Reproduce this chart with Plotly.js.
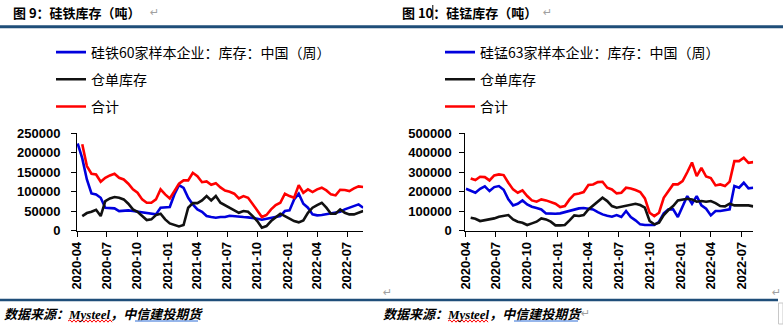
<!DOCTYPE html>
<html>
<head>
<meta charset="utf-8">
<script src="https://cdn.plot.ly/plotly-3.0.1.min.js"></script>
<style>
  html, body { margin: 0; padding: 0; background: #fff; }
  #chart { width: 783px; height: 329px; }
</style>
</head>
<body>
<div id="chart"></div>
<script>
// ---------- data ----------
const dates = [
  '2020-04-03','2020-04-17','2020-05-01','2020-05-15','2020-05-29','2020-06-12','2020-06-26','2020-07-10','2020-07-24','2020-08-07',
  '2020-08-21','2020-09-04','2020-09-18','2020-10-02','2020-10-16','2020-10-30','2020-11-13','2020-11-27','2020-12-11','2020-12-25',
  '2021-01-08','2021-01-22','2021-02-05','2021-02-19','2021-03-05','2021-03-19','2021-04-02','2021-04-16','2021-04-30','2021-05-14',
  '2021-05-28','2021-06-11','2021-06-25','2021-07-09','2021-07-23','2021-08-06','2021-08-20','2021-09-03','2021-09-17','2021-10-01',
  '2021-10-15','2021-10-29','2021-11-12','2021-11-26','2021-12-10','2021-12-24','2022-01-07','2022-01-21','2022-02-04','2022-02-18',
  '2022-03-04','2022-03-18','2022-04-01','2022-04-15','2022-04-29','2022-05-13','2022-05-27','2022-06-10','2022-06-24','2022-07-08',
  '2022-07-22','2022-08-05','2022-08-19'
];

// 图9 硅铁
const fesiSample = [
  224000,185500,131600,95700,93000,84600,59000,57300,57300,50400,
  52100,52100,50400,48700,46000,43600,43600,41900,59000,59000,
  60700,93000,117000,110000,84600,67500,54700,48700,37600,35000,
  33300,35000,35000,38500,36700,35000,35000,34200,33300,30800,
  28200,30800,33300,35000,37600,50400,52100,80300,94900,69200,
  59000,41900,39300,40200,41900,44400,46000,48700,54700,59000,
  65000,67500,59000
];
const fesiWarrant = [
  null,37600,45300,48700,53800,37600,76100,82900,86300,84600,
  80300,69200,54700,48700,37600,27400,29100,40200,43600,29100,
  18800,14500,11100,14500,59000,70900,70900,77800,88900,77800,
  88900,71800,65000,59000,52100,46000,50400,48700,37600,24800,
  7700,12000,24800,33300,43600,37600,31600,24800,21400,26500,
  46000,59000,65800,71800,59000,43600,43600,54700,46000,41900,
  41900,45300,50400
];
const fesiTotal = [
  null,222000,165800,146200,144400,125600,135900,141900,146200,135900,
  131600,120500,106000,97400,80300,71800,71800,80300,106000,93200,
  82900,101700,120500,129100,129100,148700,140000,124500,126500,118000,
  122000,111000,103000,100000,95000,82900,88900,84600,69200,52100,
  35000,40200,54700,65800,71800,94900,88900,84600,117100,97400,
  106000,99100,106000,110300,103400,93200,90600,105100,104300,101700,
  108500,113700,112000
];

// 图10 硅锰
const simnSample = [
  215400,203400,194900,215400,227400,203400,223900,229100,210300,160700,
  129900,138500,155600,135000,123100,116200,109400,88900,87200,87200,
  88900,95700,104300,109400,114500,116200,114500,109400,95700,83800,
  77000,71800,80300,70100,100900,70100,53000,32500,29100,27400,
  29100,46200,88900,109400,109400,70100,126500,177800,138500,177800,
  129900,112800,78600,100900,100900,106000,109400,229100,220500,246200,
  217100,220500
];
const simnWarrant = [
  null,66700,61500,49600,53000,58100,63200,71800,75200,80300,
  58100,46200,41000,29100,37600,46200,63200,58100,46200,27400,
  27400,29100,53000,78600,75200,80300,109400,129900,148700,169200,
  152100,126500,118000,123100,124800,131600,138500,131600,118000,49600,
  32500,41000,80300,106000,126500,155600,160700,164100,160700,148700,
  152100,148700,152100,141900,126500,124800,138500,129900,129900,129900,
  129900,124800
];
const simnTotal = [
  null,268400,259800,276900,275200,258100,283800,288900,285500,246200,
  212000,194900,206800,177800,155600,148700,160700,155600,148700,138500,
  121400,126500,160700,186300,191500,198300,234200,237600,249600,251300,
  220500,212000,191500,194900,220500,217100,208500,198300,165800,92300,
  75200,92300,169200,203400,237600,237600,254700,300000,350000,280000,
  322000,278000,270000,232500,237600,229100,252000,357300,357300,374400,
  348700,352100
];

const namesL = ['硅铁60家样本企业：库存：中国（周）', '仓单库存', '合计'];
const namesR = ['硅锰63家样本企业：库存：中国（周）', '仓单库存', '合计'];
const colors = ['#0000DD', '#111111', '#FF0000'];

// ---------- layout helpers ----------
const W = 783, H = 329;
const px = v => v / W;
const py = v => 1 - v / H;

const datesR = dates.slice(0, simnSample.length);

function tr(x, y, name, color, xa, ya, leg, grp) {
  return {
    type: 'scatter', mode: 'lines', x: x, y: y, name: name,
    line: { color: color, width: 2.6 },
    xaxis: xa, yaxis: ya, legend: leg, legendgroup: grp,
    connectgaps: false, hoverinfo: 'skip'
  };
}

const traces = [
  tr(dates, fesiSample, namesL[0], colors[0], 'x', 'y', 'legend', 'l1'),
  tr(dates, fesiWarrant, namesL[1], colors[1], 'x', 'y', 'legend', 'l2'),
  tr(dates, fesiTotal, namesL[2], colors[2], 'x', 'y', 'legend', 'l3'),
  tr(datesR, simnSample, namesR[0], colors[0], 'x2', 'y2', 'legend2', 'r1'),
  tr(datesR, simnWarrant, namesR[1], colors[1], 'x2', 'y2', 'legend2', 'r2'),
  tr(datesR, simnTotal, namesR[2], colors[2], 'x2', 'y2', 'legend2', 'r3')
];

const tickFont = { family: 'Liberation Sans, Arial, sans-serif', size: 13, color: '#000', weight: 'bold' };
const cjk = 'Noto Sans CJK SC, sans-serif';

function xAx(domain, range, anchor) {
  return {
    type: 'date', domain: domain, range: range, anchor: anchor,
    tick0: '2020-04-01', dtick: 'M3', tickformat: '%Y-%m', tickangle: -90,
    ticks: 'outside', ticklen: 5, tickcolor: '#000', tickwidth: 1,
    showline: true, linecolor: '#000', linewidth: 1,
    showgrid: false, zeroline: false, tickfont: tickFont, fixedrange: true
  };
}
function yAx(domain, range, dtick, anchor, standoff) {
  return {
    domain: domain, range: range, dtick: dtick, tick0: 0, anchor: anchor,
    tickformat: 'd',
    ticks: 'outside', ticklen: 5, tickcolor: '#000', tickwidth: 1,
    showline: true, linecolor: '#000', linewidth: 1,
    showgrid: false, zeroline: false, tickfont: tickFont, fixedrange: true,
    ticklabelstandoff: standoff
  };
}

const yDom = [py(230.7), py(133.3)];

const legendCommon = {
  orientation: 'v', xanchor: 'left', yanchor: 'top',
  font: { family: cjk, size: 14, color: '#000' },
  bgcolor: 'rgba(0,0,0,0)', borderwidth: 0,
  traceorder: 'grouped', tracegroupgap: 6, itemwidth: 30
};

function wavy(x0, x1, y) {
  let d = 'M' + px(x0) + ',' + py(y);
  let up = true;
  for (let x = x0 + 2; x <= x1; x += 2) {
    d += ' L' + px(x) + ',' + py(y + (up ? -1.2 : 1.2));
    up = !up;
  }
  return d;
}

const gray = '#A0A0A0';
const srcText = '<b><i>数据来源：<span style="font-family:Liberation Serif, serif">Mysteel</span>，中信建投期货</i></b>';

const layout = {
  width: W, height: H, autosize: false,
  margin: { l: 0, r: 0, t: 0, b: 0, pad: 0 },
  paper_bgcolor: '#fff', plot_bgcolor: '#fff',
  showlegend: true,
  xaxis: xAx([px(77), px(363.2)], ['2020-04-01', '2022-08-19'], 'y'),
  yaxis: yAx(yDom, [0, 250000], 50000, 'x', 8),
  xaxis2: xAx([px(465.3), px(753.2)], ['2020-04-01', '2022-08-05'], 'y2'),
  yaxis2: yAx(yDom, [0, 500000], 100000, 'x2', 5),
  legend: Object.assign({}, legendCommon, { x: px(51), y: py(36.5) }),
  legend2: Object.assign({}, legendCommon, { x: px(440), y: py(36.5) }),
  shapes: [
    { type: 'line', xref: 'paper', yref: 'paper', x0: 0, x1: 1, y0: py(26.8), y1: py(26.8), line: { color: '#1F4E79', width: 3 } },
    { type: 'line', xref: 'paper', yref: 'paper', x0: 0, x1: px(778), y0: py(300), y1: py(300), line: { color: '#1F4E79', width: 2.5 } },
    { type: 'line', xref: 'paper', yref: 'paper', x0: px(432.8), x1: px(432.8), y0: py(5), y1: py(20), line: { color: '#000', width: 1 } },
    { type: 'path', xref: 'paper', yref: 'paper', path: wavy(68, 112, 321), line: { color: '#FF0000', width: 1 } },
    { type: 'path', xref: 'paper', yref: 'paper', path: wavy(448, 489, 321), line: { color: '#FF0000', width: 1 } },
    { type: 'line', xref: 'paper', yref: 'paper', x0: px(135), x1: px(198), y0: py(321), y1: py(321), line: { color: '#2E6FD8', width: 1.2 } },
    { type: 'line', xref: 'paper', yref: 'paper', x0: px(514), x1: px(578), y0: py(321), y1: py(321), line: { color: '#2E6FD8', width: 1.2 } },
    { type: 'rect', xref: 'paper', yref: 'paper', x0: px(778.5), x1: px(783), y0: py(324), y1: py(303), line: { color: '#C8C8C8', width: 1 } }
  ],
  annotations: [
    { xref: 'paper', yref: 'paper', x: px(11), y: py(13), xanchor: 'left', yanchor: 'middle', showarrow: false,
      text: '图 9：硅铁库存（吨）', font: { family: cjk, size: 13, color: '#000', weight: 'bold' } },
    { xref: 'paper', yref: 'paper', x: px(148), y: py(12), xanchor: 'left', yanchor: 'middle', showarrow: false,
      text: '↵', font: { family: 'DejaVu Sans', size: 11, color: gray } },
    { xref: 'paper', yref: 'paper', x: px(400), y: py(13), xanchor: 'left', yanchor: 'middle', showarrow: false,
      text: '图 10：硅锰库存（吨）', font: { family: cjk, size: 13, color: '#000', weight: 'bold' } },
    { xref: 'paper', yref: 'paper', x: px(541), y: py(12), xanchor: 'left', yanchor: 'middle', showarrow: false,
      text: '↵', font: { family: 'DejaVu Sans', size: 11, color: gray } },
    { xref: 'paper', yref: 'paper', x: px(381), y: py(292), xanchor: 'left', yanchor: 'middle', showarrow: false,
      text: '↵', font: { family: 'DejaVu Sans', size: 11, color: gray } },
    { xref: 'paper', yref: 'paper', x: px(770), y: py(292), xanchor: 'left', yanchor: 'middle', showarrow: false,
      text: '↵', font: { family: 'DejaVu Sans', size: 11, color: gray } },
    { xref: 'paper', yref: 'paper', x: px(2), y: py(313), xanchor: 'left', yanchor: 'middle', showarrow: false,
      text: srcText, font: { family: cjk, size: 13, color: '#000' } },
    { xref: 'paper', yref: 'paper', x: px(381), y: py(313), xanchor: 'left', yanchor: 'middle', showarrow: false,
      text: srcText, font: { family: cjk, size: 13, color: '#000' } },
    { xref: 'paper', yref: 'paper', x: px(579), y: py(313), xanchor: 'left', yanchor: 'middle', showarrow: false,
      text: '↵', font: { family: 'DejaVu Sans', size: 11, color: gray } }
  ]
};

Plotly.newPlot('chart', traces, layout, { displayModeBar: false, staticPlot: true });
</script>
</body>
</html>
